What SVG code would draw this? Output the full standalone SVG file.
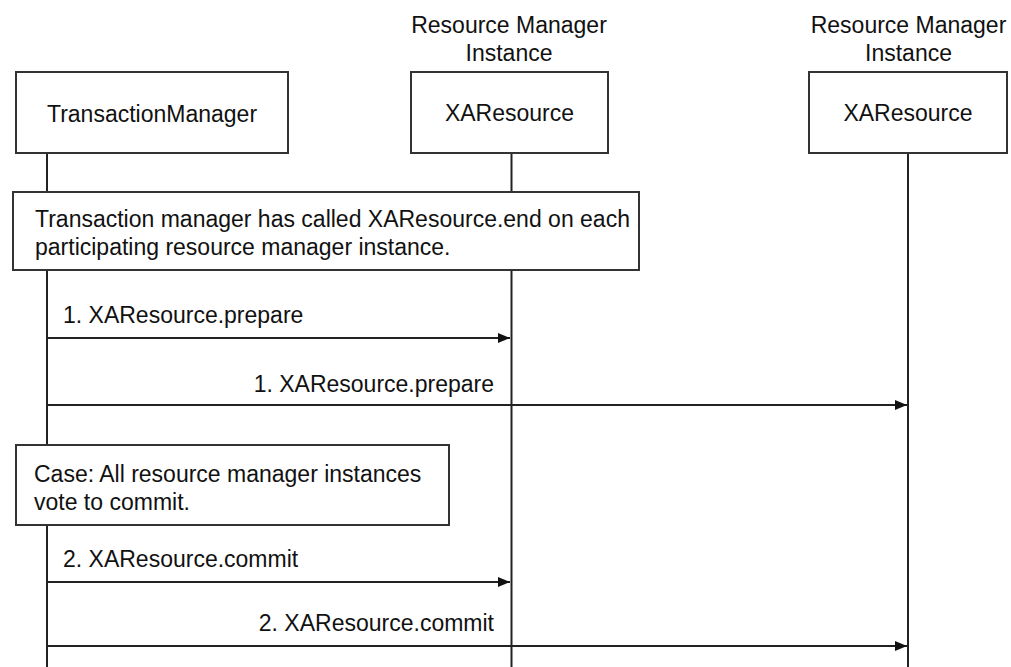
<svg xmlns="http://www.w3.org/2000/svg" width="1011" height="667" viewBox="0 0 1011 667">
<style>
text{font-family:"Liberation Sans",Arial,sans-serif;font-size:23px;fill:#111}
.c{text-anchor:middle}
.e{text-anchor:end}
.box{fill:#fff;stroke:#333;stroke-width:2}
.life{stroke:#222;stroke-width:2;fill:none}
.msg{stroke:#222;stroke-width:2;fill:none;marker-end:url(#ah)}
</style>
<defs>
<marker id="ah" viewBox="0 0 12 10" refX="12" refY="5" markerWidth="12" markerHeight="10" markerUnits="userSpaceOnUse" orient="auto">
<path d="M0,0 L12,5 L0,10 Z" fill="#111"/>
</marker>
</defs>
<rect width="1011" height="667" fill="#fff"/>
<g id="lifelines">
<line class="life" x1="47" y1="153" x2="47" y2="667"/>
<line class="life" x1="511.5" y1="153" x2="511.5" y2="667"/>
<line class="life" x1="908" y1="153" x2="908" y2="667"/>
</g>
<g id="tm">
<rect class="box" x="16" y="72" width="272" height="81"/>
<text class="c" x="152" y="122">TransactionManager</text>
</g>
<g id="xa1">
<text class="c" x="509" y="33">Resource Manager</text>
<text class="c" x="509" y="61">Instance</text>
<rect class="box" x="411" y="72" width="197" height="81"/>
<text class="c" x="509.5" y="121">XAResource</text>
</g>
<g id="xa2">
<text class="c" x="908.5" y="33">Resource Manager</text>
<text class="c" x="908.5" y="61">Instance</text>
<rect class="box" x="809" y="72" width="198" height="81"/>
<text class="c" x="908" y="121">XAResource</text>
</g>
<g id="note1">
<rect class="box" x="13" y="192" width="626" height="78"/>
<text x="35" y="227">Transaction manager has called XAResource.end on each</text>
<text x="35" y="255">participating resource manager instance.</text>
</g>
<g id="note2">
<rect class="box" x="16" y="445" width="433" height="80"/>
<text x="34" y="482">Case: All resource manager instances</text>
<text x="34" y="510">vote to commit.</text>
</g>
<g id="connectors">
<line class="msg" x1="47" y1="338" x2="510" y2="338"/>
<text x="63" y="323">1. XAResource.prepare</text>
<line class="msg" x1="47" y1="405" x2="907" y2="405"/>
<text class="e" x="494" y="392">1. XAResource.prepare</text>
<line class="msg" x1="47" y1="582" x2="510" y2="582"/>
<text x="63" y="567">2. XAResource.commit</text>
<line class="msg" x1="47" y1="646" x2="907" y2="646"/>
<text class="e" x="494" y="631">2. XAResource.commit</text>
</g>
</svg>
